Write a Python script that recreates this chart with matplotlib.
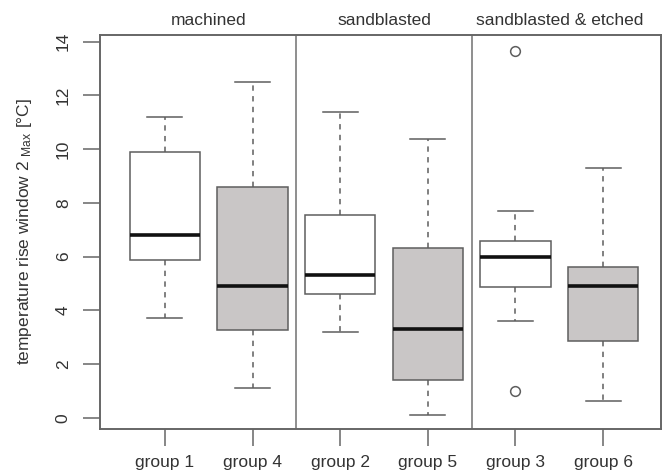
import matplotlib
matplotlib.use("Agg")
import matplotlib.pyplot as plt

plt.rcParams['font.family'] = ['Liberation Sans', 'DejaVu Sans']
plt.rcParams['mathtext.fontset'] = 'custom'
plt.rcParams['mathtext.rm'] = 'Liberation Sans'
plt.rcParams['mathtext.it'] = 'Liberation Sans'

labels = ["group 1", "group 4", "group 2", "group 5", "group 3", "group 6"]
whislo = [3.70, 1.12, 3.20, 0.10, 3.61, 0.62]
q1 = [5.86, 3.27, 4.61, 1.40, 4.86, 2.86]
med = [6.80, 4.89, 5.31, 3.31, 6.00, 4.90]
q3 = [9.91, 8.58, 7.54, 6.33, 6.59, 5.60]
whishi = [11.21, 12.49, 11.39, 10.38, 7.70, 9.29]
outliers = [[], [], [], [], [13.67, 1.01], []]
fills = ["white", "#c9c6c6", "white", "#c9c6c6", "white", "#c9c6c6"]
surfaces = ["machined", "sandblasted", "sandblasted & etched"]

fig = plt.figure(figsize=(6.63, 4.73), dpi=100)
ax = fig.add_axes([100/663, 44/473, 561/663, 394/473])

stats = []
for i in range(len(labels)):
    stats.append(dict(label=labels[i], whislo=whislo[i], q1=q1[i], med=med[i],
                      q3=q3[i], whishi=whishi[i], fliers=outliers[i]))

edge = "#5e5e5e"
positions = list(range(1, len(labels) + 1))
bp = ax.bxp(stats, positions=positions, widths=0.8, capwidths=0.4,
            patch_artist=True, showfliers=True,
            boxprops=dict(edgecolor=edge, linewidth=1.1),
            whiskerprops=dict(color=edge, linewidth=1.1, linestyle=(0, (3.5, 3.5))),
            capprops=dict(color=edge, linewidth=1.1),
            medianprops=dict(color="#111111", linewidth=2.6, solid_capstyle='butt'),
            flierprops=dict(marker='o', markerfacecolor='none', markeredgecolor=edge,
                            markersize=7, markeredgewidth=1.1))
for patch, c in zip(bp['boxes'], fills):
    patch.set_facecolor(c)

ax.set_xlim(0.26, 6.66)
ax.set_ylim(-0.42, 14.25)

for xd in [2.5, 4.5]:
    ax.axvline(xd, color="#707070", linewidth=1.1)

for j, s in enumerate(surfaces):
    ax.text(2 * j + 1.5, 1.018, s, transform=ax.get_xaxis_transform(),
            ha='center', va='bottom', fontsize=12.5, color="#333333")

ax.set_yticks([0, 2, 4, 6, 8, 10, 12, 14])
ax.set_yticklabels(["0", "2", "4", "6", "8", "10", "12", "14"], rotation=90, va='center')
ax.set_xticks(positions)
ax.set_xticklabels(labels)
ax.tick_params(axis='both', length=12, width=1.1, color="#666666",
               labelsize=12.5, labelcolor="#333333")
ax.tick_params(axis='y', pad=9)
ax.tick_params(axis='x', pad=7)
for sp in ax.spines.values():
    sp.set_color("#666666")
    sp.set_linewidth(1.4)

ax.set_ylabel(r"temperature rise window 2 $_{\mathrm{Max}}$ [°C]", fontsize=12.5,
              color="#333333", labelpad=16)

fig.savefig("out.png", dpi=100)
